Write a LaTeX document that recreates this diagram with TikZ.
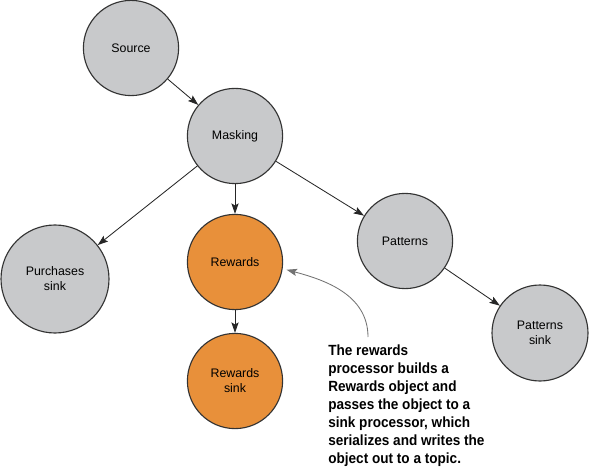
\documentclass[tikz,border=0pt]{standalone}
\usepackage{fontspec}
\setmainfont{Liberation Sans}
\newfontfamily\notefont[FakeStretch=0.92]{Liberation Sans}
\usepackage{tikz}
\usetikzlibrary{arrows.meta}

\definecolor{procgray}{HTML}{C8C9CB}
\definecolor{procorange}{HTML}{E8903A}
\definecolor{rimgray}{HTML}{333333}

\tikzset{
  proc/.style={circle, draw=rimgray, line width=0.8pt, fill=procgray,
    minimum size=2.38cm, inner sep=0pt, align=center,
    font=\fontsize{8.8}{10.6}\selectfont},
  reward/.style={proc, fill=procorange},
  flow/.style={-{Stealth[length=2.6mm,width=1.8mm,inset=0.5mm]}, line width=0.6pt, draw=black!85},
}

\begin{document}
\begin{tikzpicture}
        \useasboundingbox (0,0) rectangle (14.75,-11.725);
        \node [proc] (1) at (3.275,-1.2) {Source};
        \node [proc, below of=1, xshift=2.6cm, yshift=-1.2cm] (2) {Masking};
        \node [proc, below of=2, xshift=-4.5cm, yshift=-2.575cm, minimum size=2.7cm] (3) {Purchases\\sink};
        \node [reward, below of=2, yshift=-2.15cm] (4) {Rewards};
        \node [reward, below of=4, yshift=-1.975cm] (5) {Rewards\\sink};
        \node [proc, below of=2, xshift=4.25cm, yshift=-1.625cm] (6) {Patterns};
        \node [proc, below of=6, xshift=3.375cm, yshift=-1.3cm, minimum size=2.4cm] (7) {Patterns\\sink};

        \node [anchor=north west, inner sep=0pt, align=left,
          font=\notefont\bfseries\fontsize{10.5}{12.8}\selectfont] (8) at (8.2,-8.62)
          {The rewards\\processor builds a\\Rewards object and\\passes the object to a\\sink processor, which\\serializes and writes the\\object out to a topic.};
        \coordinate (9) at (9.2,-8.425);

        \draw[flow] (1) -- (2);
        \draw[flow] (2) -- (3);
        \draw[flow] (2) -- (4);
        \draw[flow] (2) -- (6);
        \draw[flow] (4) -- (5);
        \draw[flow] (6) -- (7);
        \draw[-{Stealth[length=2.6mm,width=1.8mm,inset=0.5mm]}, draw=black!55, line width=0.6pt, shorten >=0.1cm]
          (9) to [out=90, in=-15] (4.-8);
      \end{tikzpicture}
\end{document}
